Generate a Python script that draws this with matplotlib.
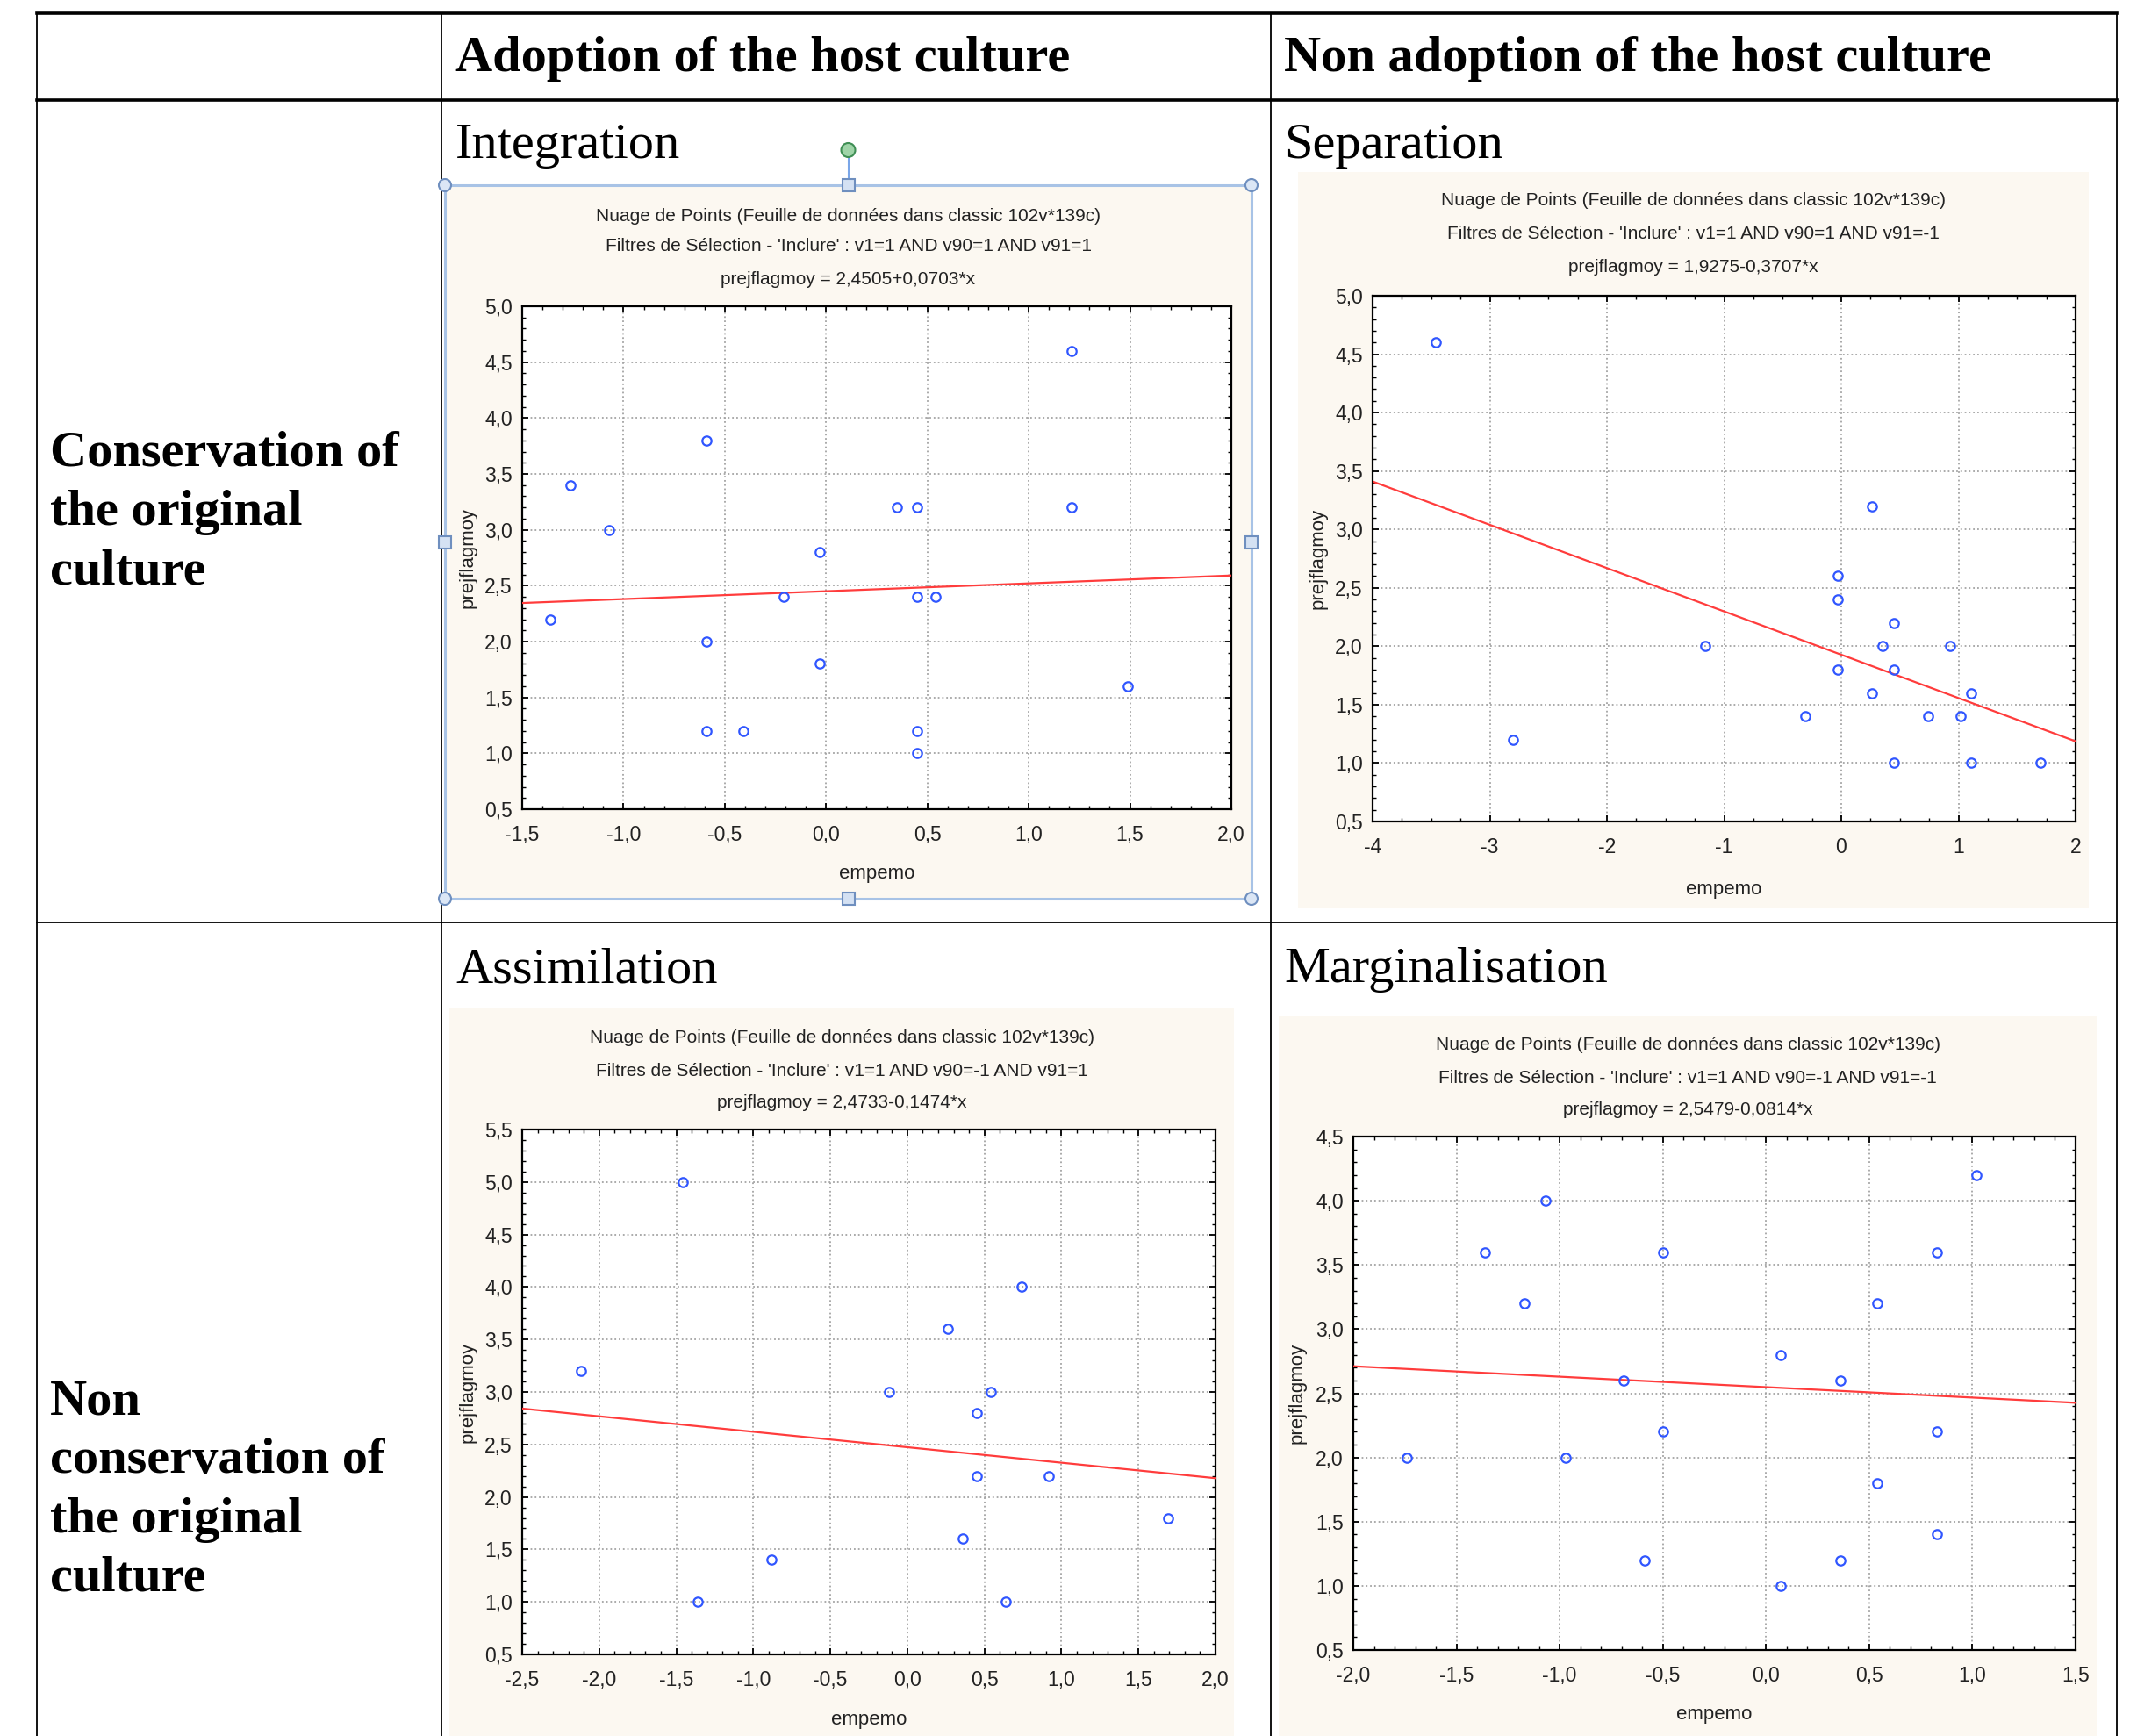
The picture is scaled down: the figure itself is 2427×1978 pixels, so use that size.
import matplotlib
matplotlib.use("Agg")
import matplotlib.pyplot as plt
import numpy as np
from matplotlib.patches import Rectangle, Circle
import matplotlib.ticker as mticker

W, H = 2427, 1978

# column / row headings
col_headers = ["Adoption of the host culture", "Non adoption of the host culture"]
row_headers = ["Conservation of\nthe original\nculture", "Non\nconservation of\nthe original\nculture"]
panel_names = ["Integration", "Separation", "Assimilation", "Marginalisation"]

title_line1 = "Nuage de Points (Feuille de données dans classic 102v*139c)"
filters = [
    "Filtres de Sélection - 'Inclure' : v1=1 AND v90=1 AND v91=1",
    "Filtres de Sélection - 'Inclure' : v1=1 AND v90=1 AND v91=-1",
    "Filtres de Sélection - 'Inclure' : v1=1 AND v90=-1 AND v91=1",
    "Filtres de Sélection - 'Inclure' : v1=1 AND v90=-1 AND v91=-1",
]
equations = [
    "prejflagmoy = 2,4505+0,0703*x",
    "prejflagmoy = 1,9275-0,3707*x",
    "prejflagmoy = 2,4733-0,1474*x",
    "prejflagmoy = 2,5479-0,0814*x",
]
intercepts = [2.4505, 1.9275, 2.4733, 2.5479]
slopes = [0.0703, -0.3707, -0.1474, -0.0814]

# scatter values
integ_x = [-1.36, -1.26, -1.07, -0.59, -0.59, -0.59, -0.41, -0.21, -0.03, -0.03,
           0.35, 0.45, 0.45, 0.54, 0.45, 0.45, 1.21, 1.21, 1.49]
integ_y = [2.2, 3.4, 3.0, 3.8, 2.0, 1.2, 1.2, 2.4, 2.8, 1.8,
           3.2, 3.2, 2.4, 2.4, 1.2, 1.0, 4.6, 3.2, 1.6]

sep_x = [-3.46, -2.80, -1.16, -0.31, -0.03, -0.03, -0.03, 0.26, 0.26, 0.35,
         0.45, 0.45, 0.45, 0.74, 0.93, 1.02, 1.11, 1.11, 1.70]
sep_y = [4.6, 1.2, 2.0, 1.4, 2.6, 2.4, 1.8, 3.2, 1.6, 2.0,
         2.2, 1.8, 1.0, 1.4, 2.0, 1.4, 1.6, 1.0, 1.0]

assim_x = [-2.12, -1.46, -1.36, -0.88, -0.12, 0.26, 0.45, 0.45, 0.36, 0.54,
           0.64, 0.74, 0.92, 1.69]
assim_y = [3.2, 5.0, 1.0, 1.4, 3.0, 3.6, 2.8, 2.2, 1.6, 3.0,
           1.0, 4.0, 2.2, 1.8]

marg_x = [-1.74, -1.36, -1.17, -1.07, -0.97, -0.69, -0.59, -0.50, -0.50, 0.07,
          0.07, 0.36, 0.36, 0.54, 0.54, 0.83, 0.83, 0.83, 1.02]
marg_y = [2.0, 3.6, 3.2, 4.0, 2.0, 2.6, 1.2, 3.6, 2.2, 2.8,
          1.0, 2.6, 1.2, 3.2, 1.8, 3.6, 2.2, 1.4, 4.2]

xs_all = [integ_x, sep_x, assim_x, marg_x]
ys_all = [integ_y, sep_y, assim_y, marg_y]

xlims = [(-1.5, 2.0), (-4, 2), (-2.5, 2.0), (-2.0, 1.5)]
ylims = [(0.5, 5.0), (0.5, 5.0), (0.5, 5.5), (0.5, 4.5)]
xsteps = [0.5, 1, 0.5, 0.5]
xminor = [5, 4, 5, 5]

# layout, in pixels of the output image
bg_boxes = [(507, 211, 1426, 1024), (1479, 196, 2380, 1035),
            (512, 1148, 1406, 1985), (1457, 1158, 2389, 1985)]
ax_boxes = [(595, 349, 1403, 922), (1564, 337, 2365, 936),
            (595, 1287, 1385, 1885), (1542, 1295, 2365, 1880)]
title_ys = [(246, 281, 318), (229, 267, 305), (1182, 1220, 1256), (1190, 1228, 1265)]
xlabel_y = [995, 1014, 1960, 1953]
ylabel_x = [533, 1502, 533, 1478]
name_pos = [(519, 166), (1463, 166), (519, 1105), (1463, 1105)]

serif = ["Liberation Serif", "DejaVu Serif"]
narrow = ["Liberation Sans Narrow", "Liberation Sans", "DejaVu Sans"]
blue = "#3056ff"
red = "#ff3c3c"
cream = "#fcf8f1"

fig = plt.figure(figsize=(W / 100, H / 100), dpi=100)
fig.patch.set_facecolor("white")

# full-figure layer for the table, texts and panel backgrounds
base = fig.add_axes([0, 0, 1, 1])
base.set_xlim(0, W)
base.set_ylim(H, 0)
base.axis("off")

for (l, t, r, b) in bg_boxes:
    base.add_patch(Rectangle((l, t), r - l, b - t, facecolor=cream, edgecolor="none", zorder=0))

# table grid
base.plot([42, 2412], [15, 15], color="black", lw=2.6)
base.plot([42, 2412], [114, 114], color="black", lw=2.6)
base.plot([42, 2412], [1051, 1051], color="black", lw=1.3)
for xv in [42, 503, 1448, 2412]:
    base.plot([xv, xv], [15, H], color="black", lw=1.3)

for txt, xx in zip(col_headers, [519, 1463]):
    base.text(xx, 67, txt, fontsize=42, fontweight="bold", family=serif, ha="left", va="center")
for txt, yy in zip(row_headers, [584, 1698]):
    base.text(57, yy, txt, fontsize=42, fontweight="bold", family=serif, ha="left", va="center",
              linespacing=1.38)
for txt, (xx, yy) in zip(panel_names, name_pos):
    base.text(xx, yy, txt, fontsize=42, family=serif, ha="left", va="center")

# selection frame around the first chart (as in the word document)
sel_col = "#a8c3e6"
l, t, r, b = bg_boxes[0]
base.add_patch(Rectangle((l, t), r - l, b - t, facecolor="none", edgecolor=sel_col, lw=2.2, zorder=5))
mx, my = (l + r) / 2, (t + b) / 2
base.plot([mx, mx], [171, t], color="#7aa6e8", lw=1.5, zorder=5)
for (cx, cy) in [(l, t), (r, t), (l, b), (r, b)]:
    base.add_patch(Circle((cx, cy), 7, facecolor="#dbe6f5", edgecolor="#6f8fbf", lw=1.5, zorder=6))
for (cx, cy) in [(mx, t), (mx, b), (l, my), (r, my)]:
    base.add_patch(Rectangle((cx - 7, cy - 7), 14, 14, facecolor="#d4e1f3", edgecolor="#6f8fbf",
                             lw=1.5, zorder=6))
base.add_patch(Circle((mx, 171), 8, facecolor="#9fd4a8", edgecolor="#3f8f55", lw=1.5, zorder=6))


for i in range(4):
    l, t, r, b = ax_boxes[i]
    ax = fig.add_axes([l / W, 1 - b / H, (r - l) / W, (b - t) / H])
    ax.set_facecolor("white")

    ax.plot(xs_all[i], ys_all[i], linestyle="none", marker="o", markersize=7.5,
            markerfacecolor="none", markeredgecolor=blue, markeredgewidth=1.6, zorder=4)
    line_x = np.array(xlims[i])
    ax.plot(line_x, intercepts[i] + slopes[i] * line_x, color=red, lw=1.6, zorder=3)

    ax.set_xlim(*xlims[i])
    ax.set_ylim(*ylims[i])
    ax.xaxis.set_major_locator(mticker.MultipleLocator(xsteps[i]))
    ax.yaxis.set_major_locator(mticker.MultipleLocator(0.5))
    ax.xaxis.set_minor_locator(mticker.AutoMinorLocator(xminor[i]))
    ax.yaxis.set_minor_locator(mticker.AutoMinorLocator(5))

    if xsteps[i] == 1:
        ax.xaxis.set_major_formatter(mticker.FuncFormatter(lambda v, p: f"{v:.0f}"))
    else:
        ax.xaxis.set_major_formatter(mticker.FuncFormatter(lambda v, p: f"{v:.1f}".replace(".", ",")))
    ax.yaxis.set_major_formatter(mticker.FuncFormatter(lambda v, p: f"{v:.1f}".replace(".", ",")))

    ax.tick_params(which="both", direction="in", top=True, right=True, color="black")
    ax.tick_params(axis="x", which="major", length=5, width=1.3, labelsize=16.5, pad=13)
    ax.tick_params(axis="y", which="major", length=5, width=1.3, labelsize=16.5, pad=8)
    ax.tick_params(which="minor", length=3, width=1.0)
    for lab in ax.get_xticklabels() + ax.get_yticklabels():
        lab.set_family(narrow)
        lab.set_color("#222222")
    ax.grid(True, which="major", linestyle=":", color="#a4a4a4", lw=1.3)
    for sp in ax.spines.values():
        sp.set_linewidth(1.6)
        sp.set_color("black")

    bl, bt, br, bb = bg_boxes[i]
    cx = (bl + br) / 2
    for txt, yy in zip([title_line1, filters[i], equations[i]], title_ys[i]):
        base.text(cx, yy, txt, fontsize=15, family=narrow, ha="center", va="center", color="#222222")
    base.text((l + r) / 2, xlabel_y[i], "empemo", fontsize=16, family=narrow,
              ha="center", va="center", color="#222222")
    base.text(ylabel_x[i], (t + b) / 2, "prejflagmoy", fontsize=16, family=narrow, rotation=90,
              ha="center", va="center", color="#222222")

fig.savefig("out.png", dpi=100, facecolor="white")
